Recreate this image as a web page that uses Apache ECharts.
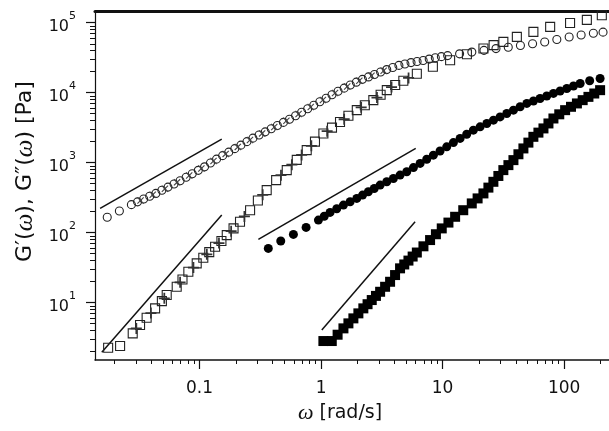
<!DOCTYPE html>
<html><head><meta charset="utf-8">
<script src="https://cdn.jsdelivr.net/npm/echarts@6/dist/echarts.min.js"></script>
<style>html,body{margin:0;padding:0;background:#fff}#c{width:609px;height:431px}</style>
</head><body><div id="c"></div>
<script>
// ---------- data ----------
// G' (open squares)
const gpW = [0.0177,0.0222,0.0282,0.0324,0.0367,0.0431,0.0490,0.0537,0.0649,0.0724,0.0809,0.0948,0.1074,0.1202,0.1343,0.1514,0.1675,0.1905,0.2153,0.2606,0.302,0.357,0.427,0.522,0.631,0.762,0.891,1.045,1.230,1.432,1.679,1.968,2.291,2.692,3.090,3.475,4.074,4.753,6.138,8.318,11.53,15.85,21.68,26.30,31.62,40.83,55.85,76.74,111.9,153.8,204.2];
const gpV = [2.26,2.39,3.63,4.78,6.07,8.26,10.5,12.8,16.8,21.4,27.5,36.3,43.7,52.5,62.7,75.9,92.0,115,143,209,288,405,562,782,1096,1510,1995,2612,3162,3802,4677,5623,6607,7816,9333,10860,12880,14790,18620,23440,29110,35480,42760,47860,53210,62660,73960,87100,98850,109600,127900];
// G' second run (crosses)
const gpxW = [0.0302,0.0398,0.0513,0.0692,0.0891,0.1148,0.1445,0.182,0.234,0.331,0.468,0.575,0.692,0.832,1.122,1.549,2.138,2.884,3.802,5.248];
const gpxV = [4.27,7.08,11.5,19.5,31.6,49.0,70.8,104.7,170,347,661,933,1288,1738,2818,4169,6166,8511,12020,16220];
// G'' (open circles)
const gppW = [0.0174,0.0219,0.0275,0.0347,0.0437,0.0550,0.0692,0.0871,0.110,0.138,0.174,0.219,0.275,0.347,0.437,0.550,0.692,0.871,1.10,1.38,1.74,2.19,2.75,3.47,4.37,5.50,6.92,8.71,11.0,13.8,17.4,21.9,27.5,34.7,43.7,55.0,69.2,87.1,110,138,174,209];
const gppV = [166,204,251,302,363,447,550,692,871,1122,1413,1778,2239,2754,3388,4169,5248,6607,8318,10470,12880,15490,18200,21380,24550,26920,28840,31620,33880,35890,38020,40270,42660,44670,47320,50120,53090,57540,62370,66830,70790,73280];
// G'' second run (open circles)
const gpp2W = [0.0309,0.0389,0.0490,0.0617,0.0776,0.0977,0.1230,0.1549,0.195,0.2455,0.309,0.389,0.490,0.617,0.776,0.977,1.230,1.549,1.950,2.455,3.090,3.890,4.898,6.166,7.762,9.772];
const gpp2V = [275,331,403,495,617,776,989,1259,1585,1995,2483,3055,3758,4677,5888,7413,9333,11610,14130,16790,19720,22910,25700,27860,30200,32730];
// G'' third run (x crosses)
const gpp3W = [0.0327,0.0412,0.0519,0.0653,0.0822,0.1035,0.1303,0.1641,0.2065,0.2600,0.3273,0.4121,0.5188,0.6531,0.8222,1.035,1.303,1.641,2.065,2.600,3.273];
const gpp3V = [288.4,346.7,424.6,522.4,653.1,822.2,1052,1334,1679,2113,2618,3221,3963,4955,6237,7852,9886,12250,14790,17500,20560];
// filled circles
const fcW = [0.368,0.466,0.592,0.753,0.951,1.186,1.528,1.968,2.449,3.062,3.936,5.070,6.531,8.395,10.81,13.93,17.91,23.12,29.72,38.28,49.32,63.39,81.66,105.2,135.5,162.2,197.7];
const fcV = [59.4,75.7,94.2,118.6,151,194.5,247,308,383,478,594,740,975,1279,1683,2218,2911,3631,4508,5623,7015,8260,9750,11480,13520,14790,15960];
// filled circles, second run
const fc2W = [1.062,1.346,1.734,2.196,2.738,3.471,4.467,5.754,7.405,9.528,12.27,15.79,20.35,26.22,33.73,43.45,55.91,71.94,92.68,119.4];
const fc2V = [171.4,219.3,276.1,343.6,427.6,532.8,663,849,1117,1467,1932,2541,3251,4046,5035,6281,7612,8974,10580,12460];
// filled squares
const fsW = [1.045,1.225,1.528,1.845,2.228,2.612,3.062,3.698,4.467,5.236,6.138,7.889,9.840,12.68,14.79,17.38,21.68,26.18,31.62,38.28,46.24,55.85,67.61,81.66,101.9,127.4,158.5,197.7];
const fsV = [2.818,2.818,4.276,5.943,8.26,10.86,14.26,19.82,30.83,39.8,51.9,78.2,114.8,168.3,208.9,261.2,363.1,532.1,781.6,1086,1596,2339,3083,4276,5623,7015,8710,10860];
// filled squares, second run
const fs2W = [1.368,1.679,2.028,2.413,2.829,3.365,4.064,4.836,5.669,6.958,8.810,11.17,19.41,23.82,28.77,34.80,42.07,50.82,61.45,74.30,91.20,113.9,142.1,177.0];
const fs2V = [3.471,5.041,7.006,9.474,12.45,16.81,24.72,35.04,45.46,63.68,94.74,139.0,308.0,439.5,644.9,921.4,1317,1932,2685,3631,4904,6281,7816,9727];
// slope guide lines (endpoints)
const line1W = [0.0152,0.1524], line1V = [222,2168];
const line2W = [0.0157,0.1524], line2V = [1.95,178];
const line3W = [0.3048,6.01],   line3V = [80.0,1596];
const line4W = [1.014,5.94],    line4V = [4.05,142.6];
// axis ticks / labels
const xTickVals = [0.1,1,10,100];
const xTickLabels = ['0.1','1','10','100'];
const yTickVals = [10,100,1000,10000,100000];
const yTickExp = ['1','2','3','4','5'];
const xRange = [0.0138,234];
const yRange = [1.51,147000];

// ---------- build ----------
const pts = (w, v) => w.map((x, i) => [x, v[i]]);
function minorTicks(k0, k1, lo, hi) {
  const out = [];
  for (let k = k0; k <= k1; k++) for (let m = 2; m <= 9; m++) {
    const t = parseFloat((m * Math.pow(10, k)).toPrecision(3));
    if (t > lo && t < hi) out.push(t);
  }
  return out;
}
const xMinor = minorTicks(-2, 2, xRange[0], xRange[1]);
const yMinor = minorTicks(0, 5, yRange[0], yRange[1]);
const FONT = 'DejaVu Sans';
const ink = '#111';
const openStyle = { color: 'rgba(0,0,0,0)', borderColor: '#222', borderWidth: 1.1, opacity: 1 };
const PLUS = 'path://M4.2,0H5.8V4.2H10V5.8H5.8V10H4.2V5.8H0V4.2H4.2Z';
const CROSS = 'path://M0,1.1L1.1,0L5,3.9L8.9,0L10,1.1L6.1,5L10,8.9L8.9,10L5,6.1L1.1,10L0,8.9L3.9,5Z';

const chart = echarts.init(document.getElementById('c'), null, { renderer: 'canvas' });
const baseX = { type: 'log', min: xRange[0], max: xRange[1], splitLine: { show: false }, gridIndex: 0 };
const baseY = { type: 'log', min: yRange[0], max: yRange[1], splitLine: { show: false }, gridIndex: 0 };

function guide(w, v) {
  return { type: 'line', data: pts(w, v), showSymbol: false, symbol: 'none', silent: true,
           lineStyle: { color: ink, width: 1.5 }, z: 1 };
}
function scat(name, w, v, symbol, size, itemStyle, z) {
  return { name, type: 'scatter', data: pts(w, v), symbol, symbolSize: size, itemStyle, z, silent: true };
}
const solid = { color: '#000', opacity: 1 };

chart.setOption({
  animation: false,
  backgroundColor: '#fff',
  grid: { left: 95, top: 11, right: 0, bottom: 71 },
  xAxis: [
    Object.assign({}, baseX, {
      position: 'bottom',
      axisLine: { lineStyle: { color: ink, width: 1.5 } },
      axisTick: { customValues: xTickVals, length: 9, lineStyle: { color: ink, width: 1.2 } },
      axisLabel: { customValues: xTickVals, margin: 20, color: ink, fontFamily: FONT, fontSize: 17,
        formatter: v => xTickLabels[xTickVals.findIndex(t => Math.abs(t - v) / t < 1e-6)] },
      name: '{w|ω}{g| [rad/s]}', nameLocation: 'middle', nameGap: 38,
      nameTextStyle: { padding: [0, 24, 0, 0], rich: {
        w: { fontFamily: 'Liberation Serif', fontStyle: 'italic', fontSize: 22, color: ink },
        g: { fontFamily: FONT, fontSize: 19, color: ink } } }
    }),
    Object.assign({}, baseX, {
      position: 'bottom',
      axisLine: { show: false },
      axisTick: { customValues: xMinor, length: 4, lineStyle: { color: ink, width: 1 } },
      axisLabel: { show: false }
    }),
    Object.assign({}, baseX, {
      position: 'top',
      axisLine: { lineStyle: { color: ink, width: 3 } },
      axisTick: { show: false }, axisLabel: { show: false }
    })
  ],
  yAxis: [
    Object.assign({}, baseY, {
      position: 'left',
      axisLine: { lineStyle: { color: ink, width: 1.2 } },
      axisTick: { customValues: yTickVals, length: 9, lineStyle: { color: ink, width: 1.2 } },
      axisLabel: { customValues: yTickVals, margin: 19, color: ink, fontFamily: FONT, fontSize: 16,
        formatter: v => {
          const i = yTickVals.findIndex(t => Math.abs(t - v) / t < 1e-6);
          return '{b|10}{s|' + yTickExp[i] + '}';
        },
        rich: {
          b: { fontFamily: FONT, fontSize: 16, color: ink, lineHeight: 24, verticalAlign: 'bottom' },
          s: { fontFamily: FONT, fontSize: 11, color: ink, verticalAlign: 'top' }
        } },
      name: '{g|G′(}{w|ω}{g|), G″(}{w|ω}{g|) [Pa]}', nameLocation: 'middle', nameGap: 57,
      nameTextStyle: { padding: [0, 0, 0, 28], rich: {
        w: { fontFamily: 'Liberation Serif', fontStyle: 'italic', fontSize: 25, color: ink },
        g: { fontFamily: FONT, fontSize: 22, color: ink } } }
    }),
    Object.assign({}, baseY, {
      position: 'left',
      axisLine: { show: false },
      axisTick: { customValues: yMinor, length: 5, lineStyle: { color: ink, width: 1 } },
      axisLabel: { show: false }
    })
  ],
  series: [
    guide(line1W, line1V), guide(line2W, line2V), guide(line3W, line3V), guide(line4W, line4V),
    scat("G''", gppW, gppV, 'circle', 8, openStyle, 2),
    scat("G'' run 2", gpp2W, gpp2V, 'circle', 8, openStyle, 2),
    scat("G'' run 3", gpp3W, gpp3V, CROSS, 7, { color: '#444', opacity: 1 }, 2),
    scat("G'", gpW, gpV, 'rect', 9, openStyle, 2),
    scat("G' run 2", gpxW, gpxV, PLUS, 11, { color: '#333', opacity: 1 }, 2),
    scat('filled circles', fcW, fcV, 'circle', 9, solid, 3),
    scat('filled circles run 2', fc2W, fc2V, 'circle', 9, solid, 3),
    scat('filled squares', fsW, fsV, 'rect', 10, solid, 3),
    scat('filled squares run 2', fs2W, fs2V, 'rect', 10, solid, 3)
  ]
});
</script></body></html>
